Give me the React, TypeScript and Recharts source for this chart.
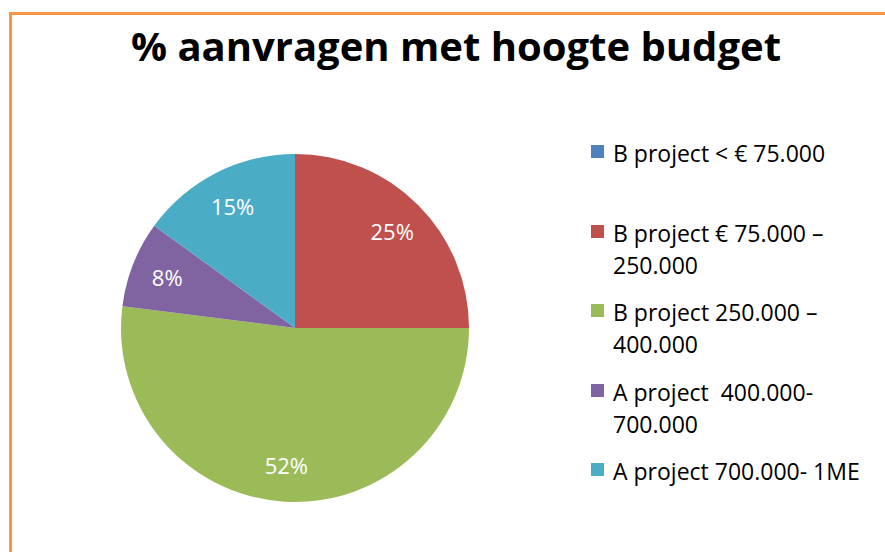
import { Cell, Legend, Pie, PieChart } from 'recharts';

const categories = [
  'B project < € 75.000',
  'B project € 75.000 – 250.000',
  'B project 250.000 – 400.000',
  'A project  400.000-700.000',
  'A project 700.000- 1ME',
];
const shares = [0, 25, 52, 8, 15];
const colors = ['#4F81BD', '#C0504D', '#9BBB59', '#8064A2', '#4BACC6'];

const data = categories.map((name, i) => ({ name, value: shares[i] }));

const FONT = '"Open Sans", Calibri, sans-serif';
const RAD = Math.PI / 180;

const renderLabel = (props: any) => {
  const { cx, cy, midAngle, outerRadius, value } = props;
  if (!value) return null;
  const r = outerRadius * 0.79;
  const x = cx + r * Math.cos(-midAngle * RAD);
  const y = cy + r * Math.sin(-midAngle * RAD);
  return (
    <text x={x} y={y} fill="#fff" textAnchor="middle" dominantBaseline="central" fontSize={22} fontFamily={FONT}>
      {value}%
    </text>
  );
};

const renderLegend = () => (
  <div style={{ fontFamily: FONT, fontSize: 23, color: '#000', lineHeight: '32px' }}>
    {categories.map((name, i) => (
      <div key={name} style={{ display: 'flex', alignItems: 'flex-start', minHeight: 64, marginBottom: 15.5 }}>
        <span
          style={{
            width: 13,
            height: 13,
            background: colors[i],
            marginTop: 8,
            marginRight: 9,
            flex: 'none',
          }}
        />
        <span style={{ width: 262, whiteSpace: 'pre-wrap' }}>{name}</span>
      </div>
    ))}
  </div>
);

export default function App() {
  return (
    <div style={{ position: 'absolute', left: 0, top: 0, width: 885, height: 552, overflow: 'hidden', background: '#fff' }}>
      <div
        style={{
          position: 'absolute',
          left: 9,
          top: 12,
          width: 900,
          height: 600,
          border: '3.5px solid #F79646',
          boxSizing: 'border-box',
        }}
      />
      <div
        style={{
          position: 'absolute',
          left: 0,
          width: 912,
          top: 18,
          textAlign: 'center',
          fontFamily: FONT,
          fontWeight: 700,
          fontSize: 40,
          color: '#000',
        }}
      >
        % aanvragen met hoogte budget
      </div>
      <div style={{ position: 'absolute', left: 0, top: 0 }}>
        <PieChart width={885} height={552} margin={{ top: 0, right: 0, bottom: 0, left: 0 }}>
          <Pie
            data={data}
            dataKey="value"
            nameKey="name"
            cx={295}
            cy={328}
            outerRadius={174}
            startAngle={90}
            endAngle={-270}
            stroke="none"
            label={renderLabel}
            labelLine={false}
            isAnimationActive={false}
          >
            {data.map((d, i) => (
              <Cell key={d.name} fill={colors[i]} />
            ))}
          </Pie>
          <Legend
            layout="vertical"
            align="right"
            verticalAlign="top"
            content={renderLegend}
            wrapperStyle={{ left: 591, right: 'auto', top: 137, width: 290 }}
          />
        </PieChart>
      </div>
    </div>
  );
}
